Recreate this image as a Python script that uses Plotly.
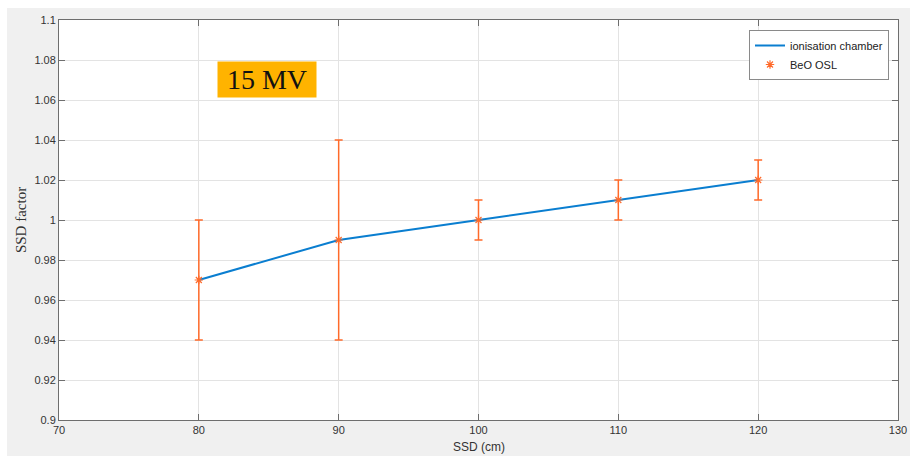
import plotly.graph_objects as go

ssd = [80, 90, 100, 110, 120]
chamber = [0.97, 0.99, 1.00, 1.01, 1.02]
osl = [0.97, 0.99, 1.00, 1.01, 1.02]
osl_err = [0.03, 0.05, 0.01, 0.01, 0.01]

W, H = 910, 456
L, R, T, B = 59, 12, 20, 36
pw, ph = W - L - R, H - T - B

fig = go.Figure()
fig.add_trace(go.Scatter(
    x=ssd, y=chamber, mode="lines", name="ionisation chamber",
    line=dict(color="#0a7ed0", width=2)))
fig.add_trace(go.Scatter(
    x=ssd, y=osl, mode="markers", name="BeO OSL",
    marker=dict(symbol="asterisk-open", size=7, color="#ff6a2a",
                line=dict(color="#ff6a2a", width=1.2)),
    error_y=dict(type="data", array=osl_err, visible=True,
                 color="#ff6a2a", thickness=1.5, width=4)))

axis_common = dict(
    automargin=False,
    showgrid=True, gridcolor="#e3e3e3", gridwidth=1,
    showline=True, linecolor="#6e6e6e", linewidth=1, mirror="allticks",
    ticks="inside", ticklen=6, tickcolor="#6e6e6e",
    zeroline=False,
    tickfont=dict(family="Liberation Sans, Arial", size=11, color="#333333"),
)

fig.update_xaxes(range=[70, 130], dtick=10, tick0=70, **axis_common)
fig.update_yaxes(range=[0.9, 1.1], dtick=0.02, tick0=0.9,
                 title=dict(text="SSD factor", standoff=4,
                            font=dict(family="Liberation Serif, Times New Roman", size=15, color="#333333")),
                 **axis_common)

# x-axis title placed as paper annotation (sits lower than plotly's minimum standoff)
fig.add_annotation(
    x=0.5, y=-(447 - (H - B)) / ph, xref="paper", yref="paper",
    text="SSD (cm)", showarrow=False, yanchor="middle",
    font=dict(family="Liberation Sans, Arial", size=12, color="#333333"))

fig.add_annotation(
    x=84.87, y=1.0702, xref="x", yref="y", text="15 MV", showarrow=False,
    font=dict(family="Liberation Serif, Times New Roman", size=28, color="#111111"),
    bgcolor="#ffb300", borderpad=0, width=98, height=35)

# white strips at top and left, as in the reference screenshot
fig.add_shape(type="rect", xref="paper", yref="paper",
              x0=-L / pw - 0.01, x1=(7 - L) / pw, y0=-B / ph - 0.01, y1=1 + T / ph + 0.01,
              fillcolor="white", line=dict(width=0), layer="below")
fig.add_shape(type="rect", xref="paper", yref="paper",
              x0=-L / pw - 0.01, x1=1 + R / pw + 0.01, y0=1 + (T - 8) / ph, y1=1 + T / ph + 0.01,
              fillcolor="white", line=dict(width=0), layer="below")

fig.update_layout(
    template="none",
    width=W, height=H,
    margin=dict(l=L, r=R, t=T, b=B, autoexpand=False),
    paper_bgcolor="#f0f0f0", plot_bgcolor="white",
    showlegend=True,
    legend=dict(x=(889 - L) / pw, y=1 - 10 / ph, xanchor="right", yanchor="top",
                bgcolor="white", bordercolor="#8a8a8a", borderwidth=1,
                font=dict(family="Liberation Sans, Arial", size=11, color="#222222"),
                tracegroupgap=0, itemwidth=30),
)

fig.write_html(
    "out.html",
    config={"displayModeBar": False},
    post_script="document.body.style.margin='0';document.body.style.overflow='hidden';",
)
